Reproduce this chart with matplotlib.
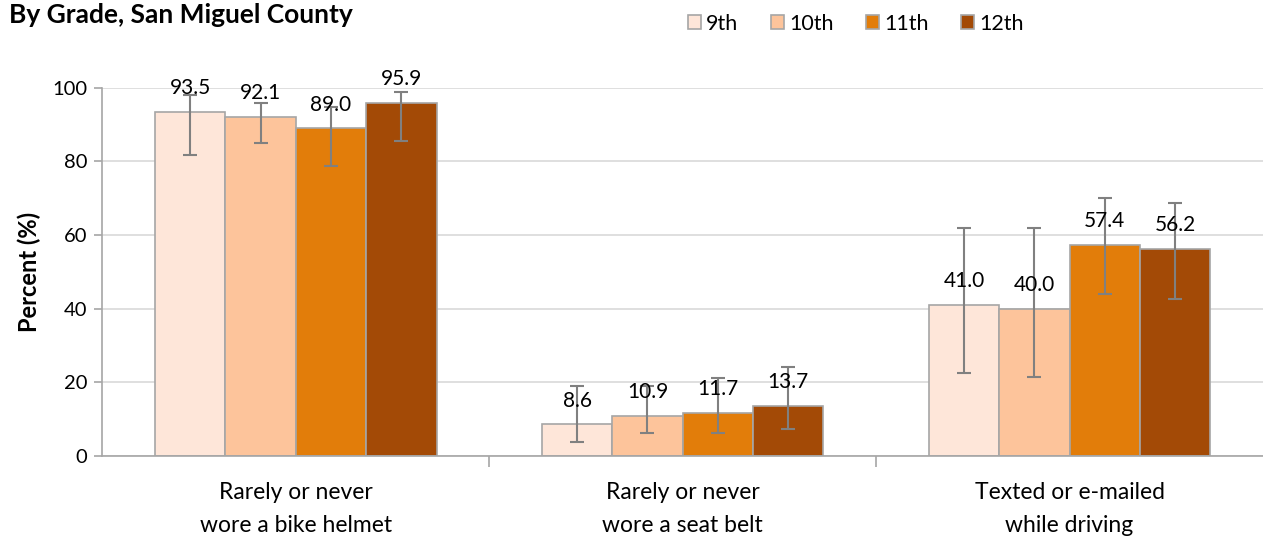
import numpy as np
import matplotlib.pyplot as plt

plt.rcParams['font.family'] = ['Lato', 'DejaVu Sans']

# Data
categories = ["Rarely or never\nwore a bike helmet",
              "Rarely or never\nwore a seat belt",
              "Texted or e-mailed\nwhile driving"]
grades = ["9th", "10th", "11th", "12th"]
values = {
    "9th":  [93.5, 8.6, 41.0],
    "10th": [92.1, 10.9, 40.0],
    "11th": [89.0, 11.7, 57.4],
    "12th": [95.9, 13.7, 56.2],
}
ci_low = {
    "9th":  [81.8, 3.7, 22.6],
    "10th": [84.9, 6.2, 21.5],
    "11th": [78.8, 6.2, 43.9],
    "12th": [85.6, 7.3, 42.7],
}
ci_high = {
    "9th":  [98.1, 19.1, 62.0],
    "10th": [96.0, 19.0, 62.0],
    "11th": [94.9, 21.2, 70.1],
    "12th": [98.9, 24.2, 68.8],
}
colors = ["#FEE6D9", "#FDC49B", "#E27D0A", "#A34A06"]

fig = plt.figure(figsize=(12.63, 5.39), dpi=100)
ax = fig.add_axes([0.081, 0.154, 0.919, 0.683])

x = np.arange(len(categories))
width = 0.182
for i, g in enumerate(grades):
    pos = x + (i - 1.5) * width
    vals = np.array(values[g])
    lo = vals - np.array(ci_low[g])
    hi = np.array(ci_high[g]) - vals
    ax.bar(pos, vals, width, color=colors[i], edgecolor="#A6A6A6",
           linewidth=1.2, label=g, zorder=2)
    ax.errorbar(pos, vals, yerr=[lo, hi], fmt='none', ecolor="#808080",
                elinewidth=1.5, capsize=5, capthick=1.5, zorder=3)
    for px, v in zip(pos, vals):
        ax.annotate(f"{v:.1f}", (px, v), xytext=(0, 17), textcoords="offset points",
                    ha="center", va="center", fontsize=15, zorder=4)

ax.set_xlim(-0.5, 2.5)
ax.set_ylim(0, 100)
ax.set_yticks(np.arange(0, 101, 20))
ax.yaxis.grid(True, color="#D9D9D9", linewidth=1.2, zorder=0)
ax.set_axisbelow(True)
ax.set_xticks(x)
ax.set_xticklabels(categories, fontsize=16.5, linespacing=1.7)
ax.set_xticks([0.5, 1.5], minor=True)
ax.tick_params(axis='x', which='major', length=0, pad=19)
ax.tick_params(axis='x', which='minor', length=8, color="#A6A6A6", width=1.2)
ax.tick_params(axis='y', length=6, color="#A6A6A6", width=1.2, labelsize=14.5, pad=5)
ax.set_ylabel("Percent (%)", fontsize=17, fontweight="bold", labelpad=8)
for s in ["top", "right"]:
    ax.spines[s].set_visible(False)
for s in ["left", "bottom"]:
    ax.spines[s].set_color("#A6A6A6")
    ax.spines[s].set_linewidth(1.2)

fig.text(0.007, 0.972, "By Grade, San Miguel County", fontsize=19,
         fontweight="bold", ha="left", va="center")

fig.legend(loc="center right", bbox_to_anchor=(0.826, 0.956), ncol=4, frameon=False,
           fontsize=15.5, handlelength=0.6, handleheight=0.6, handletextpad=0.25,
           columnspacing=1.5)

fig.savefig("out.png", dpi=100)
